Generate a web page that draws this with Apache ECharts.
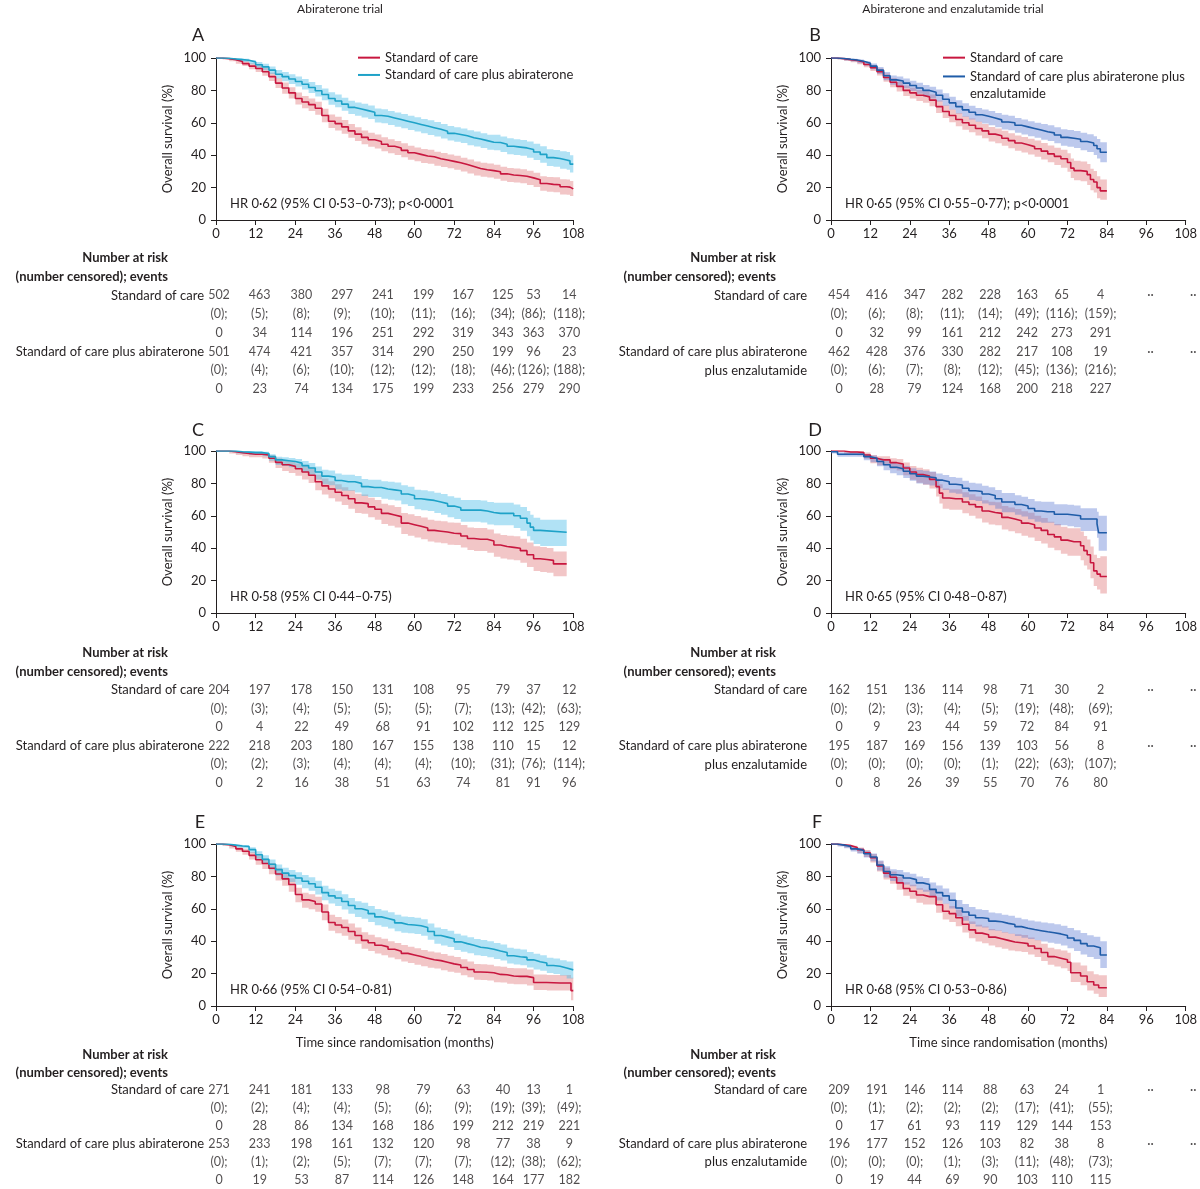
<!DOCTYPE html>
<html><head><meta charset="utf-8">
<script src="https://cdn.jsdelivr.net/npm/echarts@6/dist/echarts.min.js"></script>
<style>html,body{margin:0;padding:0;background:#fff}#c{width:1200px;height:1189px}</style>
</head><body><div id="c"></div>
<script>
// ---------------- DATA ----------------
const MONTH_TICKS = [0, 12, 24, 36, 48, 60, 72, 84, 96, 108];
const ARM_SOC = 'Standard of care';
const ARM_ABI = 'Standard of care plus abiraterone';
const ARM_ENZ = 'Standard of care plus abiraterone plus enzalutamide';
const TRIAL_TITLES = ['Abiraterone trial', 'Abiraterone and enzalutamide trial'];
const PANEL_LETTERS = ['A', 'B', 'C', 'D', 'E', 'F'];
const HR_TEXTS = [
  'HR 0·62 (95% CI 0·53–0·73); p<0·0001',
  'HR 0·65 (95% CI 0·55–0·77); p<0·0001',
  'HR 0·58 (95% CI 0·44–0·75)',
  'HR 0·65 (95% CI 0·48–0·87)',
  'HR 0·66 (95% CI 0·54–0·81)',
  'HR 0·68 (95% CI 0·53–0·86)'
];
const Y_NAME = 'Overall survival (%)';
const X_NAME = 'Time since randomisation (months)';

// KM rows: [month, survival %, lower 95% CI, upper 95% CI]
const kmA_soc = [[0,100,100,100],[2,99.6,99,100],[4,99,98,99.8],[6,97.8,96.5,99],[8,96.5,95,98],[10,95,93,96.8],[12,93.5,91.3,95.5],[14,91.5,89,93.8],[16,88.5,85.8,91],[18,84.5,81.5,87.5],[20,81.5,78,84.8],[22,78.5,75,82],[24,75,71.3,78.7],[26,72.8,69,76.5],[28,71.2,67.3,75],[30,69,65,73],[32,64.5,60.4,68.6],[34,61,56.8,65.2],[36,59.5,55.2,63.8],[38,57.5,53.2,61.8],[40,55,50.7,59.3],[42,53,48.7,57.3],[44,51,46.7,55.3],[46,49.5,45.2,53.8],[48,48.5,44.2,52.8],[50,46.8,42.5,51.1],[52,45.5,41.2,49.8],[54,44.5,40.2,48.8],[56,43,38.7,47.3],[58,41.5,37.2,45.8],[60,40.5,36.2,44.8],[62,39.5,35.2,43.8],[64,39,34.7,43.3],[66,37.8,33.5,42.1],[68,37,32.7,41.3],[70,36.2,31.9,40.5],[72,35.3,31,39.6],[74,34.2,29.9,38.5],[76,33,28.7,37.3],[78,31.8,27.5,36.1],[80,31,26.7,35.3],[82,30.5,26.2,34.8],[84,29.8,25.5,34.1],[86,28.5,24.2,32.8],[88,27.8,23.5,32.1],[90,27.5,23.2,31.8],[92,27,22.7,31.3],[94,26,21.6,30.4],[96,24.8,20.4,29.2],[98,22.5,18,27],[100,22,17.5,26.5],[102,21.8,17.2,26.4],[104,20.5,15.8,25.2],[106,20.3,15.6,25],[107,19.2,14.8,24],[108,19.2,14.8,24]];
const kmA_abi = [[0,100,100,100],[2,99.8,99.5,100],[4,99.4,98.8,100],[6,99,98.2,99.8],[8,98.6,97.6,99.5],[10,97.5,96.2,98.8],[12,95.8,94,97.5],[14,94.5,92.5,96.5],[16,92.5,90.2,94.8],[18,90,87.4,92.6],[20,88.5,85.7,91.3],[22,87,84,90],[24,85.5,82.4,88.6],[26,83.8,80.6,87],[28,81.8,78.4,85.2],[30,79.8,76.3,83.3],[32,77.5,73.9,81.1],[34,75,71.2,78.8],[36,73.5,69.6,77.4],[38,71.5,67.5,75.5],[40,69.5,65.4,73.6],[42,68.5,64.4,72.6],[44,67.5,63.3,71.7],[46,66.5,62.3,70.7],[48,64.5,60.2,68.8],[50,64,59.7,68.3],[52,63,58.7,67.3],[54,62,57.6,66.4],[56,61,56.6,65.4],[58,60,55.6,64.4],[60,59,54.6,63.4],[62,58,53.6,62.4],[64,57,52.5,61.5],[66,56,51.5,60.5],[68,54.8,50.3,59.3],[70,53.5,49,58],[72,52.8,48.3,57.3],[74,52,47.5,56.5],[76,50.8,46.2,55.4],[78,50,45.4,54.6],[80,49,44.4,53.6],[82,48,43.3,52.7],[84,47.8,43,52.6],[86,46.8,42,51.6],[88,45.5,40.6,50.4],[90,45,40.1,49.9],[92,44.5,39.6,49.4],[94,43.5,38.5,48.5],[96,42,37,47],[98,40.5,35.4,45.6],[100,38.5,33.3,43.7],[102,38,32.8,43.2],[104,37,31.6,42.4],[106,36.5,31,42],[107,34.5,29.3,40],[108,34.5,29.3,40]];
const kmB_soc = [[0,100,100,100],[2,99.6,99,100],[4,99,98.2,99.7],[6,98.5,97.4,99.4],[8,97.5,96.1,98.6],[10,96,94.3,97.4],[12,94,92,95.7],[14,91.5,89.2,93.5],[16,88,85.3,90.4],[18,85,82,87.7],[20,82.5,79.3,85.4],[22,80,76.6,83.1],[24,78.5,75,81.7],[26,77,73.4,80.3],[28,76,72.3,79.4],[30,74,70.2,77.5],[32,70,66.1,73.7],[34,67,63,70.8],[36,64.5,60.4,68.4],[38,62,57.8,66],[40,60,55.7,64.1],[42,58.5,54.1,62.7],[44,56.5,52.1,60.8],[46,55,50.5,59.3],[48,53,48.5,57.4],[50,52,47.4,56.5],[52,50.5,45.9,55.1],[54,49,44.3,53.6],[56,47.5,42.8,52.2],[58,46.5,41.7,51.2],[60,45.3,40.4,50.1],[62,44,39,49],[64,42.5,37.4,47.6],[66,40.8,35.6,46],[68,39.3,34,44.6],[70,37.8,32.3,43.3],[72,35.5,29.8,41.2],[73,32,26,38],[74,30.5,24.5,36.6],[76,30,23.9,36.1],[78,28,21.6,34.5],[79,25,18.4,31.7],[80,23.5,16.9,30.3],[81,20,13.5,27],[82,18,12.5,25],[84,18,12.5,25]];
const kmB_enz = [[0,100,100,100],[2,99.7,99.2,100],[4,99.2,98.5,99.8],[6,98.8,97.9,99.5],[8,98,96.8,99],[10,96.8,95.3,98],[12,95,93.1,96.6],[14,92.5,90.2,94.5],[16,89,86.3,91.4],[18,86.5,83.5,89.2],[20,85.8,82.7,88.6],[22,84.5,81.3,87.4],[24,83,79.6,86],[26,81.5,78,84.7],[28,80,76.3,83.3],[30,78.8,75,82.2],[32,77,73.1,80.5],[34,74.5,70.5,78.2],[36,72.3,68.2,76.1],[38,70,65.8,73.9],[40,68,63.7,72],[42,66.5,62.1,70.6],[44,65,60.6,69.2],[46,64,59.5,68.2],[48,63,58.5,67.3],[50,61.8,57.2,66.1],[52,60.5,55.9,64.9],[54,60,55.4,64.4],[56,58.5,53.8,62.9],[58,57.5,52.8,62],[60,56.5,51.7,61],[62,55.5,50.7,60.1],[64,54.5,49.6,59.2],[66,53.8,48.8,58.5],[68,52.5,47.4,57.3],[70,51,45.8,56],[72,50.5,45.2,55.6],[74,49.8,44.4,55],[76,48.5,43,53.8],[78,47.5,41.9,53],[80,46,40.2,51.7],[81,44,38,50],[82,41.8,35.6,48],[84,41.8,35.6,48]];
const kmC_soc = [[0,100,100,100],[2,100,100,100],[4,99.5,98.5,100],[6,99,97.6,100],[8,98.5,96.8,99.5],[10,98,96.1,99.2],[12,98,96.1,99.2],[14,97.5,95.4,98.8],[16,95.5,92.7,97.3],[18,93,89.5,95.5],[20,91.5,87.6,94.3],[22,90.5,86.4,93.5],[24,89,84.7,92.3],[26,87,82.4,90.7],[28,85,80.2,89],[30,81,75.8,85.4],[32,78.5,73.1,83.1],[34,76.5,70.9,81.4],[36,74.5,68.8,79.5],[38,72.5,66.6,77.7],[40,70.5,64.4,75.9],[42,68,61.8,73.6],[44,67.5,61.2,73.1],[46,65.5,59.1,71.2],[48,64,57.5,69.8],[50,61.5,55,67.5],[52,60.5,53.9,66.5],[54,59.5,52.8,65.5],[56,55.5,48.7,61.8],[58,54.5,47.7,60.9],[60,53.5,46.6,59.9],[62,52.5,45.6,59],[64,51,44.1,57.5],[66,50.5,43.5,57],[68,50,43,56.6],[70,49.2,42.2,55.9],[72,49,42,55.7],[74,47.5,40.4,54.3],[76,46,38.9,52.8],[78,45.5,38.3,52.4],[80,45.5,38.3,52.4],[82,44.5,37.2,51.5],[84,42,34.7,49.1],[86,41,33.6,48.2],[88,40.5,33.1,47.7],[90,40,32.5,47.3],[92,38.5,31,45.8],[94,36,28.4,43.5],[96,33.5,25.9,41.2],[98,33,25.3,40.8],[100,32.5,24.8,40.2],[102,30.3,22.7,38],[104,30.3,22.7,38],[106,30.3,22.7,38]];
const kmC_abi = [[0,100,100,100],[2,100,100,100],[4,100,100,100],[6,99.5,98.5,100],[8,99.3,98.2,100],[10,99,97.6,100],[12,99,97.6,100],[14,98.5,96.8,99.5],[16,96.5,94,98],[18,94.5,91.3,96.5],[20,94,90.7,96.1],[22,93.5,90,95.7],[24,92.5,88.9,95],[26,91,87.1,93.9],[28,89.5,85.3,92.6],[30,87,82.4,90.5],[32,84.5,79.5,88.4],[34,84,78.9,88],[36,81.8,76.4,86.1],[38,81,75.5,85.4],[40,81,75.5,85.4],[42,80,74.4,84.5],[44,78,72.2,82.7],[46,77.5,71.6,82.3],[48,77.5,71.6,82.3],[50,76.5,70.5,81.4],[52,76,69.9,81],[54,75.5,69.4,80.6],[56,73.5,67.2,78.8],[58,72.5,66.1,77.9],[60,70.5,64,76.1],[62,70,63.4,75.7],[64,69.5,62.9,75.2],[66,68.5,61.8,74.3],[68,67.5,60.7,73.4],[70,66,59.1,72],[72,65,58,71.1],[74,63.5,56.4,69.8],[76,63.5,56.4,69.8],[78,63.5,56.4,69.8],[80,63,55.8,69.4],[82,62,54.7,68.5],[84,61.5,54.1,68.1],[86,61.5,54.1,68.1],[88,61.5,54.1,68.1],[90,60,52.4,66.9],[92,58.5,50.7,65.5],[94,55.5,47.3,62.9],[95,53,44.7,60.6],[96,51,42.6,58.8],[98,49.8,41.4,57.6],[106,49.8,41.4,57.6]];
const kmD_soc = [[0,100,100,100],[2,100,100,100],[4,99.4,98,100],[6,99.4,98,100],[8,99,97.4,100],[10,97.5,95.2,99],[12,95.5,92.5,97.5],[14,94.5,91.2,96.8],[16,94.5,91.2,96.8],[18,92.8,88.9,95.6],[20,92,87.9,95],[22,89.5,85,92.9],[24,87,82.2,90.8],[26,85.5,80.4,89.6],[28,84.5,79.2,88.8],[30,82.5,76.9,87.1],[32,78,71.9,83.1],[33,74,67.6,79.5],[34,71,64.4,76.8],[36,70.5,63.8,76.4],[38,70.5,63.8,76.4],[40,68.5,61.6,74.6],[42,67,60,73.3],[44,65.5,58.4,71.9],[46,63,55.8,69.6],[48,62,54.7,68.7],[50,61.5,54.1,68.3],[52,59,51.5,66],[54,58,50.4,65.1],[56,57,49.3,64.2],[58,55.5,47.7,62.8],[60,54.5,46.6,61.9],[62,52.5,44.5,60],[64,51,42.9,58.6],[66,48.5,40.3,56.3],[68,47,38.7,55],[70,45,36.5,53.2],[72,44,35.4,52.3],[74,44,35.4,52.3],[76,41.5,32.5,50.3],[77,38.5,29.3,47.6],[78,36,26.8,45.3],[79,31,21.5,41],[80,26,16.6,36],[81,24,14.5,34],[82,22.5,12,35],[84,22.5,12,35]];
const kmD_enz = [[0,99.5,98.5,100],[2,98,96.5,99.2],[4,98,96.5,99.2],[6,98,96.5,99.2],[8,98,96.5,99.2],[10,96.5,94.3,98],[12,95.5,93.1,97.2],[14,93.5,90.6,95.6],[16,91.5,88.1,94],[18,90,86.3,92.8],[20,89,85.1,92],[22,87.5,83.4,90.7],[24,86,81.7,89.4],[26,84.5,79.9,88.2],[28,84,79.3,87.8],[30,83.5,78.7,87.4],[32,82,77,86.1],[34,81,75.9,85.2],[36,79.5,74.2,83.9],[38,79,73.6,83.5],[40,77,71.4,81.7],[42,75.5,69.8,80.4],[44,75,69.2,80],[46,73.5,67.6,78.6],[48,72.5,66.5,77.7],[50,70.5,64.3,75.9],[52,68.5,62.2,74],[54,68.5,62.2,74],[56,67,60.6,72.7],[58,66,59.5,71.8],[60,64.5,57.9,70.4],[62,63,56.3,69],[64,62.5,55.7,68.6],[66,62.5,55.7,68.6],[68,61,54.1,67.2],[70,61,54.1,67.2],[72,60.5,53.5,66.8],[74,60,52.9,66.4],[76,58,50.6,64.7],[78,58,50.6,64.7],[80,58,50.6,64.7],[81,55,46.5,62.5],[81.5,49.5,38.5,60],[84,49.5,38.5,60]];
const kmE_soc = [[0,100,100,100],[2,99.5,98.7,100],[4,98.5,97.2,99.4],[6,97,95.2,98.3],[8,95.5,93.3,97.1],[10,93,90.4,95.1],[12,90.3,87.2,92.9],[14,88,84.6,90.9],[16,85,81.3,88.2],[18,81.5,77.5,85],[20,78.5,74.3,82.2],[22,75,70.6,78.9],[24,68.8,64.1,73],[26,65.5,60.7,69.9],[28,64.5,59.7,69],[30,63,58.2,67.5],[32,58,53,62.7],[34,51.5,46.4,56.4],[36,50,44.9,54.9],[38,48.5,43.4,53.4],[40,46,40.9,51],[42,43.5,38.4,48.5],[44,40.5,35.4,45.5],[46,39,33.9,44],[48,37.5,32.4,42.5],[50,36.5,31.4,41.5],[52,35,29.9,40],[54,33.8,28.8,38.9],[56,32.5,27.5,37.6],[58,31.5,26.5,36.6],[60,30.5,25.5,35.6],[62,29.5,24.5,34.6],[64,28.5,23.6,33.6],[66,28,23.1,33.1],[68,27,22.1,32.1],[70,26,21.2,31],[72,25.3,20.5,30.3],[74,23.8,19,28.8],[76,22.5,17.7,27.5],[78,21,16.2,26],[80,20.8,16,25.8],[82,20.5,15.7,25.5],[84,19.5,14.7,24.5],[86,19.3,14.5,24.3],[88,18.5,13.8,23.5],[90,18.3,13.5,23.3],[92,18.3,13.5,23.3],[94,17.5,12.7,22.5],[96,14.5,9.8,19.5],[100,14.2,9.5,19.2],[104,14.2,9.5,19.2],[106,14.2,9.5,19.2],[107.3,9.5,3.5,17.5],[108,9.5,3.5,17.5]];
const kmE_abi = [[0,100,100,100],[2,99.8,99.3,100],[4,99.3,98.6,100],[6,98.8,97.8,99.6],[8,98.5,97.4,99.4],[10,96.5,94.6,98],[12,93.4,90.9,95.5],[14,90.5,87.6,93],[16,87.5,84.2,90.4],[18,84.2,80.6,87.4],[20,82,78.2,85.4],[22,80.5,76.5,84],[24,79,74.9,82.6],[26,77,72.7,80.8],[28,75.5,71.1,79.4],[30,73.3,68.8,77.3],[32,70,65.3,74.2],[34,68,63.2,72.3],[36,66.7,61.8,71.1],[38,64.5,59.5,69],[40,62,57,66.6],[42,60,54.9,64.7],[44,59,53.9,63.8],[46,57,51.9,61.8],[48,55,49.9,59.9],[50,54,48.9,58.9],[52,53,47.9,57.9],[54,51.3,46.2,56.3],[56,50.3,45.2,55.3],[58,50,44.9,55],[60,49.5,44.4,54.5],[62,48.5,43.4,53.5],[64,46,40.9,51],[66,43.5,38.4,48.5],[68,42.5,37.4,47.5],[70,41.5,36.4,46.5],[72,39.6,34.6,44.6],[74,38.5,33.5,43.5],[76,37.5,32.5,42.5],[78,36.3,31.4,41.3],[80,35.8,30.9,40.8],[82,35,30.1,40],[84,33.9,29,38.9],[86,33,28.1,38],[88,31,26.2,36],[90,30.4,25.6,35.4],[92,30,25.2,34.9],[94,28.5,23.7,33.4],[96,27.3,22.5,32.2],[98,26.5,21.7,31.4],[100,25,20.3,29.8],[102,24.5,19.8,29.3],[104,23.5,18.8,28.3],[106,22.3,17,27.5],[108,22.3,17,27.5]];
const kmF_soc = [[0,100,100,100],[2,99.5,98.8,100],[4,99,97.9,99.7],[6,97.8,96.2,98.9],[8,96.5,94.5,97.9],[10,94.5,92,96.3],[12,91.5,88.6,93.8],[14,86.5,83,89.4],[16,82,78.1,85.3],[18,79.5,75.4,83],[20,76,71.7,79.7],[22,72.5,68,76.4],[24,70.8,66.2,74.8],[26,68.5,63.8,72.7],[28,67.5,62.7,71.8],[30,67.5,62.7,71.8],[32,62.5,57.5,67.1],[34,58.5,53.4,63.2],[36,57,51.9,61.8],[38,54.5,49.3,59.4],[40,50.5,45.3,55.5],[42,47,41.8,52.1],[44,45,39.8,50.1],[46,44,38.8,49.1],[48,42.5,37.3,47.6],[50,41.5,36.3,46.7],[52,40.5,35.3,45.7],[54,39.5,34.3,44.7],[56,39,33.8,44.3],[58,38.5,33.3,43.8],[60,37,31.8,42.3],[62,35.5,30.3,40.8],[64,33,27.8,38.4],[66,30.5,25.4,36],[68,29.5,24.4,35],[70,28.5,23.3,34.2],[72,27,21.6,32.9],[73,20.5,14.8,26.8],[74,20.5,14.8,26.8],[76,18.5,12.8,25],[78,15,9.5,21.5],[80,13,7.5,19.6],[81.5,11.3,5.5,19],[84,11.3,5.5,19]];
const kmF_enz = [[0,100,100,100],[2,99.3,98.5,100],[4,98.5,97.3,99.4],[6,97,95.3,98.3],[8,96,94,97.6],[10,94,91.6,95.9],[12,92,89.3,94.1],[14,87,83.6,89.8],[16,83,79.3,86.2],[18,81,77.1,84.4],[20,80.5,76.6,84],[22,79,75,82.6],[24,78,73.9,81.7],[26,76,71.7,79.9],[28,75,70.6,79],[30,72,67.4,76.2],[32,70,65.2,74.4],[34,68,63.1,72.5],[36,65.3,60.2,70],[38,60.5,55.2,65.4],[40,58,52.6,63],[42,56,50.6,61.1],[44,54.5,49,59.7],[46,54,48.5,59.2],[48,52.4,46.8,57.7],[50,52,46.4,57.3],[52,51,45.3,56.4],[54,50.3,44.6,55.7],[56,49,43.2,54.5],[58,48,42.2,53.6],[60,47.2,41.3,52.8],[62,46.5,40.6,52.2],[64,45.8,39.8,51.6],[66,45.2,39.1,51.1],[68,44.5,38.4,50.4],[70,43.5,37.3,49.5],[72,42,35.7,48.1],[74,40.5,34,46.8],[76,38.5,31.8,45],[78,37,30.2,43.6],[80,36,29,42.8],[82,31.5,23.5,40],[84,31.5,23.5,40]];

// Risk tables: number at risk (null = ".."), number censored, events
const riskA_soc_n = [502,463,380,297,241,199,167,125,53,14];
const riskA_soc_c = [0,5,8,9,10,11,16,34,86,118];
const riskA_soc_e = [0,34,114,196,251,292,319,343,363,370];
const riskA_abi_n = [501,474,421,357,314,290,250,199,96,23];
const riskA_abi_c = [0,4,6,10,12,12,18,46,126,188];
const riskA_abi_e = [0,23,74,134,175,199,233,256,279,290];
const riskB_soc_n = [454,416,347,282,228,163,65,4,null,null];
const riskB_soc_c = [0,6,8,11,14,49,116,159];
const riskB_soc_e = [0,32,99,161,212,242,273,291];
const riskB_enz_n = [462,428,376,330,282,217,108,19,null,null];
const riskB_enz_c = [0,6,7,8,12,45,136,216];
const riskB_enz_e = [0,28,79,124,168,200,218,227];
const riskC_soc_n = [204,197,178,150,131,108,95,79,37,12];
const riskC_soc_c = [0,3,4,5,5,5,7,13,42,63];
const riskC_soc_e = [0,4,22,49,68,91,102,112,125,129];
const riskC_abi_n = [222,218,203,180,167,155,138,110,15,12];
const riskC_abi_c = [0,2,3,4,4,4,10,31,76,114];
const riskC_abi_e = [0,2,16,38,51,63,74,81,91,96];
const riskD_soc_n = [162,151,136,114,98,71,30,2,null,null];
const riskD_soc_c = [0,2,3,4,5,19,48,69];
const riskD_soc_e = [0,9,23,44,59,72,84,91];
const riskD_enz_n = [195,187,169,156,139,103,56,8,null,null];
const riskD_enz_c = [0,0,0,0,1,22,63,107];
const riskD_enz_e = [0,8,26,39,55,70,76,80];
const riskE_soc_n = [271,241,181,133,98,79,63,40,13,1];
const riskE_soc_c = [0,2,4,4,5,6,9,19,39,49];
const riskE_soc_e = [0,28,86,134,168,186,199,212,219,221];
const riskE_abi_n = [253,233,198,161,132,120,98,77,38,9];
const riskE_abi_c = [0,1,2,5,7,7,7,12,38,62];
const riskE_abi_e = [0,19,53,87,114,126,148,164,177,182];
const riskF_soc_n = [209,191,146,114,88,63,24,1,null,null];
const riskF_soc_c = [0,1,2,2,2,17,41,55];
const riskF_soc_e = [0,17,61,93,119,129,144,153];
const riskF_enz_n = [196,177,152,126,103,82,38,8,null,null];
const riskF_enz_c = [0,0,0,1,3,11,48,73];
const riskF_enz_e = [0,19,44,69,90,103,110,115];

const TABLE_LABELS_LEFT = ['Number at risk', '(number censored); events', 'Standard of care', '', '', 'Standard of care plus abiraterone', '', ''];
const TABLE_LABELS_RIGHT = ['Number at risk', '(number censored); events', 'Standard of care', '', '', 'Standard of care plus abiraterone', 'plus enzalutamide', ''];

// ---------------- STYLE / LAYOUT ----------------
const FONT = 'Lato, "Open Sans", sans-serif';
const TXT = '#231f20';
const RED = '#c8173f', RED_BAND = 'rgba(218,96,100,0.36)';
const CYAN = '#1ea2c8', CYAN_BAND = 'rgba(70,185,230,0.42)';
const BLUE = '#1f5ca8', BLUE_BAND = 'rgba(90,120,210,0.40)';

const COL_LEFT = [216, 831], COL_W = [357.3, 358.2];
const ROW_TOP = [58, 451, 844], PLOT_H = 162;
const TABLE_TOP = [248.5, 643.4, 1045.4], TABLE_H = [150, 149, 148.6];
const COL_OFF = [[3,4,6,7,8,9,9,9,0,-4], [8,6,4,2,0,-3,-8,-9,1,4]];
const LABEL_MARGIN = [12, 24], HEADER_PAD = [36, 31];
const LETTER_POS = [[198, 35], [815, 35], [198, 430], [815, 430], [200, 822], [817, 822]];

const panels = [
  {arms: [[kmA_soc, RED, RED_BAND, ARM_SOC], [kmA_abi, CYAN, CYAN_BAND, ARM_ABI]], risk: [riskA_soc_n, riskA_soc_c, riskA_soc_e, riskA_abi_n, riskA_abi_c, riskA_abi_e]},
  {arms: [[kmB_soc, RED, RED_BAND, ARM_SOC], [kmB_enz, BLUE, BLUE_BAND, ARM_ENZ]], risk: [riskB_soc_n, riskB_soc_c, riskB_soc_e, riskB_enz_n, riskB_enz_c, riskB_enz_e]},
  {arms: [[kmC_soc, RED, RED_BAND, ARM_SOC], [kmC_abi, CYAN, CYAN_BAND, ARM_ABI]], risk: [riskC_soc_n, riskC_soc_c, riskC_soc_e, riskC_abi_n, riskC_abi_c, riskC_abi_e]},
  {arms: [[kmD_soc, RED, RED_BAND, ARM_SOC], [kmD_enz, BLUE, BLUE_BAND, ARM_ENZ]], risk: [riskD_soc_n, riskD_soc_c, riskD_soc_e, riskD_enz_n, riskD_enz_c, riskD_enz_e]},
  {arms: [[kmE_soc, RED, RED_BAND, ARM_SOC], [kmE_abi, CYAN, CYAN_BAND, ARM_ABI]], risk: [riskE_soc_n, riskE_soc_c, riskE_soc_e, riskE_abi_n, riskE_abi_c, riskE_abi_e]},
  {arms: [[kmF_soc, RED, RED_BAND, ARM_SOC], [kmF_enz, BLUE, BLUE_BAND, ARM_ENZ]], risk: [riskF_soc_n, riskF_soc_c, riskF_soc_e, riskF_enz_n, riskF_enz_c, riskF_enz_e]}
];

const NP = panels.length;
const grid = new Array(2 * NP), xAxis = new Array(2 * NP), yAxis = new Array(2 * NP);
const series = [], graphic = [];
const axisLineStyle = {lineStyle: {color: TXT, width: 1}};
const tickLabel = {color: TXT, fontSize: 13, fontFamily: FONT};

panels.forEach((p, i) => {
  const col = i % 2, row = Math.floor(i / 2);
  grid[i] = {left: COL_LEFT[col], top: ROW_TOP[row], width: COL_W[col], height: PLOT_H};
  xAxis[i] = {
    gridIndex: i, type: 'value', min: 0, max: 108, interval: 12,
    axisLine: {show: true, onZero: false, ...axisLineStyle},
    axisTick: {show: true, length: 5, lineStyle: {color: TXT}},
    axisLabel: {...tickLabel, margin: 7},
    splitLine: {show: false},
    name: row === 2 ? X_NAME : '', nameLocation: 'middle', nameGap: 30,
    nameTextStyle: {color: TXT, fontSize: 13, fontFamily: FONT}
  };
  yAxis[i] = {
    gridIndex: i, type: 'value', min: 0, max: 100, interval: 20,
    axisLine: {show: true, onZero: false, ...axisLineStyle},
    axisTick: {show: true, length: 5, lineStyle: {color: TXT}},
    axisLabel: {...tickLabel, margin: 10},
    splitLine: {show: false},
    name: Y_NAME, nameLocation: 'middle', nameGap: 42,
    nameTextStyle: {color: TXT, fontSize: 13, fontFamily: FONT}
  };
  // CI bands (stepped polygons through the axis scales)
  p.arms.forEach(([km, color, band]) => {
    series.push({
      type: 'custom', xAxisIndex: i, yAxisIndex: i, silent: true, z: 1,
      data: km, encode: {x: 0, y: [2, 3]},
      renderItem: (params, api) => {
        if (params.dataIndex !== 0) return null;
        const up = [], lo = [];
        for (let k = 0; k < km.length; k++) {
          up.push(api.coord([km[k][0], km[k][3]]));
          if (k < km.length - 1) up.push(api.coord([km[k + 1][0], km[k][3]]));
        }
        for (let k = km.length - 1; k >= 0; k--) {
          if (k < km.length - 1) lo.push(api.coord([km[k + 1][0], km[k][2]]));
          lo.push(api.coord([km[k][0], km[k][2]]));
        }
        return {type: 'polygon', shape: {points: up.concat(lo)}, style: {fill: band}};
      }
    });
  });
  p.arms.forEach(([km, color, band, name]) => {
    series.push({
      type: 'line', name: name, xAxisIndex: i, yAxisIndex: i, step: 'end', symbol: 'none', z: 3,
      data: km.map(r => [r[0], r[1]]),
      lineStyle: {color: color, width: 1.6}, itemStyle: {color: color}
    });
  });

  // risk table
  const gi = NP + i;
  const labels = col === 0 ? TABLE_LABELS_LEFT : TABLE_LABELS_RIGHT;
  grid[gi] = {left: COL_LEFT[col], top: TABLE_TOP[row], width: COL_W[col], height: TABLE_H[row]};
  xAxis[gi] = {gridIndex: gi, type: 'value', min: 0, max: 108, show: false};
  yAxis[gi] = {
    gridIndex: gi, type: 'category', inverse: true,
    data: labels.map((_, k) => 'r' + k),
    axisLine: {show: false}, axisTick: {show: false}, splitLine: {show: false},
    axisLabel: {
      margin: LABEL_MARGIN[col], interval: 0, color: TXT, fontSize: 13, fontFamily: FONT,
      formatter: (v, k) => k < 2 ? '{h|' + labels[k] + '}' : labels[k],
      rich: {h: {fontWeight: 'bold', fontSize: 13, fontFamily: FONT, color: TXT, padding: [0, HEADER_PAD[col], 0, 0]}}
    }
  };
  const tdata = [];
  p.risk.forEach((arr, r) => {
    const kind = r % 3;
    arr.forEach((v, c) => {
      let txt;
      if (kind === 0) txt = v === null ? '··' : String(v);
      else if (kind === 1) txt = '(' + v + ');';
      else txt = String(v);
      tdata.push({name: txt, value: [MONTH_TICKS[c], 2 + r], label: {offset: [COL_OFF[col][c], 0]}});
    });
  });
  series.push({
    type: 'scatter', xAxisIndex: gi, yAxisIndex: gi, symbolSize: 1, silent: true,
    itemStyle: {color: 'rgba(0,0,0,0)'},
    label: {show: true, position: 'inside', formatter: '{b}', color: TXT, fontSize: 12.5, fontFamily: FONT},
    data: tdata
  });

  // letter + HR text
  graphic.push({type: 'text', x: LETTER_POS[i][0], y: LETTER_POS[i][1],
    style: {text: PANEL_LETTERS[i], font: '18px ' + FONT, fill: TXT, textAlign: 'center', textVerticalAlign: 'middle', align: 'center', verticalAlign: 'middle'}});
  graphic.push({type: 'text', x: COL_LEFT[col] + 14, y: ROW_TOP[row] + 146,
    style: {text: HR_TEXTS[i], font: '13px ' + FONT, fill: TXT, textAlign: 'left', textVerticalAlign: 'middle', align: 'left', verticalAlign: 'middle'}});
});

TRIAL_TITLES.forEach((t, c) => {
  graphic.push({type: 'text', x: c === 0 ? 340 : 953, y: 9,
    style: {text: t, font: '12px ' + FONT, fill: TXT, textAlign: 'center', textVerticalAlign: 'middle', align: 'center', verticalAlign: 'middle'}});
});

const legendBase = {orient: 'vertical', itemWidth: 22, itemHeight: 2, itemGap: 0, icon: 'rect', selectedMode: false,
  padding: 0, textStyle: {fontSize: 13, fontFamily: FONT, color: TXT, lineHeight: 17.3}};
const legend = [
  {...legendBase, data: [ARM_SOC, ARM_ABI], left: 358, top: 49},
  {...legendBase, data: [ARM_SOC], left: 943, top: 49},
  {...legendBase, data: [ARM_ENZ], left: 943, top: 50.5,
    formatter: () => '\nStandard of care plus abiraterone plus\nenzalutamide'}
];

const chart = echarts.init(document.getElementById('c'), null, {renderer: 'canvas'});
chart.setOption({
  animation: false, backgroundColor: '#fff',
  textStyle: {fontFamily: FONT},
  grid, xAxis, yAxis, series, legend, graphic
});
</script></body></html>
